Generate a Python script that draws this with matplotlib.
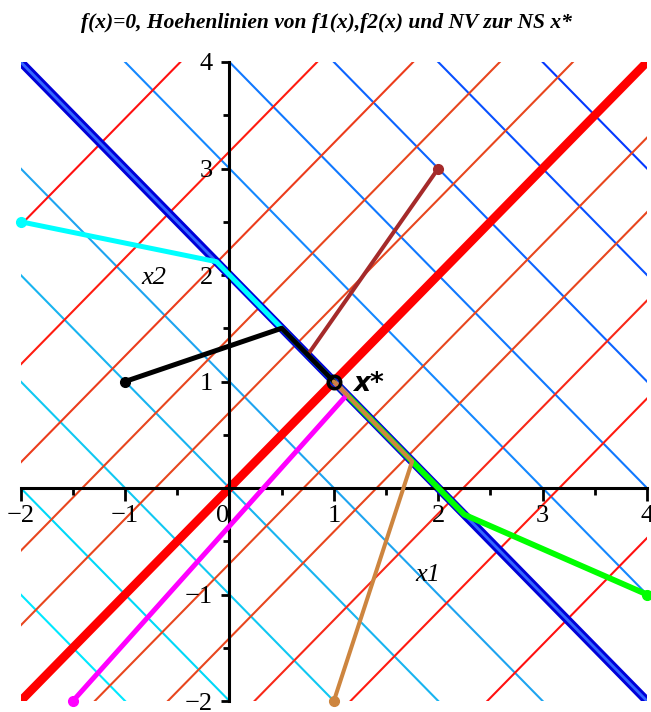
import matplotlib
matplotlib.use('Agg')
import matplotlib.pyplot as plt
from matplotlib.ticker import MultipleLocator

plt.rcParams['font.family'] = ['Liberation Serif', 'DejaVu Serif']

# Hoehenlinien f1: x1 + x2 = c  (f1 = 0 ist c = 2)
f1_levels = [-3, -2, -1, 0, 1, 3, 4, 5, 6, 7]
f1_colors = ['#00e8ff', '#00d8f8', '#10c8f2', '#18b4f0', '#1ea4f0',
             '#1488ff', '#1078ff', '#0c64ff', '#0850ff', '#0438ff']
# Hoehenlinien f2: x2 - x1 = c  (f2 = 0 ist c = 0)
f2_levels = [-4.47, -3.16, -2.24, -1.41, -0.71, 0.71, 1.41, 2.24, 3.16, 4.47]
f2_colors = ['#ff1010', '#ff1a10', '#f82818', '#e8461e', '#e8461e',
             '#e8461e', '#e8461e', '#ec3c1c', '#ff1c10', '#ff1010']

# Newton-Iterationen, Startpunkte zuerst
cyan_x = [-2, -0.125, 0.4375, 0.719, 0.859, 0.93, 1]
cyan_y = [2.5, 2.125, 1.5625, 1.281, 1.141, 1.07, 1]
green_x = [4, 2.25, 1.625, 1.3125, 1.156, 1.078, 1]
green_y = [-1, -0.25, 0.375, 0.6875, 0.844, 0.922, 1]
magenta_x = [-1.5, 1.125, 1.0625, 1.031, 1]
magenta_y = [-2, 0.875, 0.9375, 0.969, 1]
brown_x = [2, 0.75, 0.875, 0.9375, 1]
brown_y = [3, 1.25, 1.125, 1.0625, 1]
black_x = [-1, 0.5, 0.75, 0.875, 0.9375, 1]
black_y = [1, 1.5, 1.25, 1.125, 1.0625, 1]
peru_x = [1, 1.75, 1.375, 1.1875, 1.094, 1.047, 1]
peru_y = [-2, 0.25, 0.625, 0.8125, 0.906, 0.953, 1]
xstar = (1, 1)

xticks = [-2, -1, 0, 1, 2, 3, 4]
yticks = [-2, -1, 1, 2, 3, 4]

fig = plt.figure(figsize=(6.51, 7.12), dpi=100)
ax = fig.add_axes([20.7/651, 11/712, (647-20.7)/651, (701-62)/712])
ax.set_xlim(-2, 4)
ax.set_ylim(-2, 4)

for c, col in zip(f1_levels, f1_colors):
    ax.axline((c, 0), slope=-1, color=col, lw=1.5, zorder=1)
for c, col in zip(f2_levels, f2_colors):
    ax.axline((0, c), slope=1, color=col, lw=1.5, zorder=1)

# f2 = 0 und f1 = 0
ax.axline((0, 0), slope=1, color='#ff0000', lw=6.2, zorder=1.5)
ax.axline((2, 0), slope=-1, color='#0000d8', lw=6.2, zorder=1.6)
ax.axline((2, 0), slope=-1, color='#3366ff', lw=2.0, zorder=1.7)

paths = [(cyan_x, cyan_y, '#00ffff', 3.6),
         (green_x, green_y, '#00ff00', 4.2),
         (magenta_x, magenta_y, '#ff00ff', 3.6),
         (brown_x, brown_y, '#a52a2a', 2.9),
         (black_x, black_y, 'black', 3.6),
         (peru_x, peru_y, '#cd853f', 2.9)]
for i, (px, py, col, lw) in enumerate(paths):
    ax.plot(px, py, color=col, lw=lw, solid_capstyle='round', zorder=3 + i)
    ax.plot(px[0], py[0], 'o', color=col, ms=7, clip_on=False, zorder=3 + i)

ax.plot(*xstar, 'o', mfc='none', mec='black', ms=9, mew=2.5, zorder=10)
ax.text(1.18, 0.98, 'x*', fontsize=19, fontweight='bold', style='italic',
        family='DejaVu Sans', va='center', ha='left', zorder=11)

# Achsen durch den Ursprung
for s in ['top', 'right']:
    ax.spines[s].set_visible(False)
for s in ['left', 'bottom']:
    ax.spines[s].set_position(('data', 0))
    ax.spines[s].set_linewidth(2.2)
    ax.spines[s].set_zorder(2.5)

ax.set_xticks(xticks, [str(t).replace('-', '\u2212') for t in xticks])
ax.set_yticks(yticks, [str(t).replace('-', '\u2212') for t in yticks])
ax.xaxis.set_minor_locator(MultipleLocator(0.5))
ax.yaxis.set_minor_locator(MultipleLocator(0.5))
ax.tick_params(axis='x', which='major', length=9, width=2, pad=3, labelsize=19)
ax.tick_params(axis='x', which='minor', length=5, width=2)
ax.tick_params(axis='y', which='major', length=6, width=2, pad=6, labelsize=19)
ax.tick_params(axis='y', which='minor', length=4, width=2)
for lbl in ax.get_xticklabels():
    if lbl.get_text() == '0':
        lbl.set_ha('right')

ax.text(1.9, -0.82, 'x1', fontsize=19, style='italic', ha='center', va='center')
ax.text(-0.72, 1.97, 'x2', fontsize=19, style='italic', ha='center', va='center')

fig.text(0.5015, 1 - 23/712, 'f(x)=0, Hoehenlinien von f1(x),f2(x) und NV zur NS x*',
         ha='center', va='center', fontsize=15.5, fontweight='bold', style='italic')

fig.savefig('out.png', dpi=100)
